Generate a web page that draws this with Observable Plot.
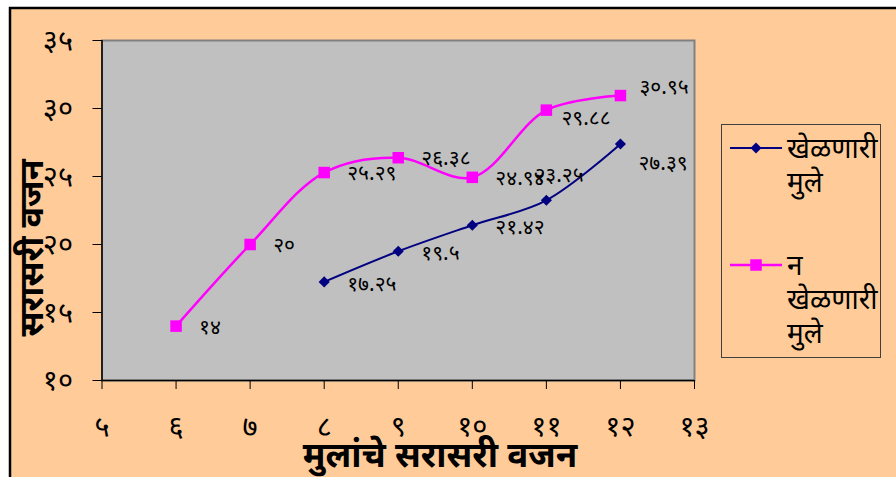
<!DOCTYPE html>
<html>
<head>
<meta charset="utf-8">
<script src="https://cdn.jsdelivr.net/npm/d3@7"></script>
<script src="https://cdn.jsdelivr.net/npm/@observablehq/plot@0.6"></script>
<style>
  html, body { margin: 0; padding: 0; background: #ffffff; }
  #chart { position: absolute; left: 0; top: 0; }
</style>
</head>
<body>
<div id="chart"></div>
<script>
// ---- data ----
const xTicks = [5, 6, 7, 8, 9, 10, 11, 12, 13];
const yTicks = [10, 15, 20, 25, 30, 35];
const playingX = [8, 9, 10, 11, 12];
const playingY = [17.25, 19.5, 21.42, 23.25, 27.39];
const notPlayingX = [6, 7, 8, 9, 10, 11, 12];
const notPlayingY = [14, 20, 25.29, 26.38, 24.94, 29.88, 30.95];
const seriesNames = ["खेळणारी मुले", "न खेळणारी मुले"];
const xTitle = "मुलांचे सरासरी वजन";
const yTitle = "सरासरी वजन";

const devDigits = "०१२३४५६७८९";
const dev = v => String(v).replace(/[0-9]/g, d => devDigits[+d]);

const playing = playingX.map((x, i) => ({x, y: playingY[i], s: seriesNames[0], i}));
const notPlaying = notPlayingX.map((x, i) => ({x, y: notPlayingY[i], s: seriesNames[1], i}));

const NAVY = "#000080", MAGENTA = "#FF00FF";
const FONT = "'Noto Sans', 'Noto Sans Devanagari', Lato, sans-serif";

// label nudges (screen px) for crowded labels
const nudgeP = d => d.i === 3 ? [-12, -25] : d.i === 4 ? [18, 19] : [23, 2];
const nudgeN = d => d.i === 5 ? [15, 8] : d.i === 6 ? [19, -8] : [23, 1];

const labelMarks = (data, nudge) => data.map(d => Plot.text([d], {
  x: "x", y: "y", text: d => dev(d.y), textAnchor: "start",
  dx: nudge(d)[0], dy: nudge(d)[1], fontSize: 21, fill: "black"
}));

const chart = Plot.plot({
  width: 896, height: 477,
  marginLeft: 101.5, marginRight: 202, marginTop: 40, marginBottom: 97,
  style: {background: "#FFCC99", fontFamily: FONT, fontSize: "20px", color: "black", overflow: "visible"},
  x: {domain: [5, 13], label: null},
  y: {domain: [10, 35], label: null},
  marks: [
    Plot.frame({fill: "#C0C0C0", stroke: "#808080", strokeWidth: 2}),
    Plot.ruleX([5], {stroke: "black", strokeWidth: 1.5}),
    Plot.ruleY([10], {stroke: "black", strokeWidth: 1.5}),
    Plot.line(notPlaying, {x: "x", y: "y", stroke: MAGENTA, strokeWidth: 2.5, curve: "catmull-rom"}),
    Plot.line(playing, {x: "x", y: "y", stroke: NAVY, strokeWidth: 2, curve: "catmull-rom"}),
    Plot.dot(notPlaying, {x: "x", y: "y", symbol: "square", r: 6.5, fill: MAGENTA, stroke: "none"}),
    Plot.dot(playing, {x: "x", y: "y", symbol: "diamond2", r: 5, fill: NAVY, stroke: "none"}),
    ...labelMarks(notPlaying, nudgeN),
    ...labelMarks(playing, nudgeP),
    Plot.axisX({ticks: xTicks, tickFormat: dev, tickSize: 9, tickPadding: 26, fontSize: 29, label: null}),
    Plot.axisY({ticks: yTicks, tickFormat: dev, tickSize: 9, tickPadding: 20, fontSize: 29, label: null})
  ]
});

document.getElementById("chart").appendChild(chart);

const svg = d3.select(chart);
// white outside the chart's black border
svg.insert("path", ":first-child")
  .attr("d", "M0,0 H896 V7 H9 V477 H0 Z").attr("fill", "#ffffff");
svg.append("path")
  .attr("d", "M10,477 V8 H896")
  .attr("fill", "none").attr("stroke", "black").attr("stroke-width", 2.5);

// axis titles
svg.append("text").text(xTitle)
  .attr("x", 440).attr("y", 455).attr("dy", "0.35em")
  .attr("text-anchor", "middle").attr("font-family", FONT).attr("font-size", 35)
  .attr("font-weight", "bold").attr("fill", "black");
svg.append("text").text(yTitle)
  .attr("transform", "translate(31,248) rotate(-90)").attr("dy", "0.35em")
  .attr("text-anchor", "middle").attr("font-family", FONT).attr("font-size", 34)
  .attr("font-weight", "bold").attr("fill", "black");

// legend
const lg = svg.append("g").attr("font-family", FONT).attr("font-size", 28).attr("fill", "black")
  .attr("text-anchor", "start");
lg.append("rect").attr("x", 721.5).attr("y", 124.5).attr("width", 159).attr("height", 233)
  .attr("fill", "none").attr("stroke", "#404040").attr("stroke-width", 1);
const entries = [
  {color: NAVY, symbol: d3.symbolDiamond2, y: 148, lines: ["खेळणारी", "मुले"]},
  {color: MAGENTA, symbol: d3.symbolSquare, y: 265, lines: ["न", "खेळणारी", "मुले"]}
];
entries.forEach((e, k) => {
  lg.append("line").attr("x1", 730).attr("x2", 782).attr("y1", e.y).attr("y2", e.y)
    .attr("stroke", e.color).attr("stroke-width", k ? 2.5 : 2);
  lg.append("path").attr("transform", `translate(756,${e.y})`)
    .attr("d", d3.symbol(e.symbol, k ? 132 : 78)()).attr("fill", e.color);
  e.lines.forEach((t, j) => {
    lg.append("text").attr("x", 787).attr("y", e.y + j * 34).attr("dy", "0.35em")
      .attr("text-anchor", "start").text(t);
  });
});
</script>
</body>
</html>
